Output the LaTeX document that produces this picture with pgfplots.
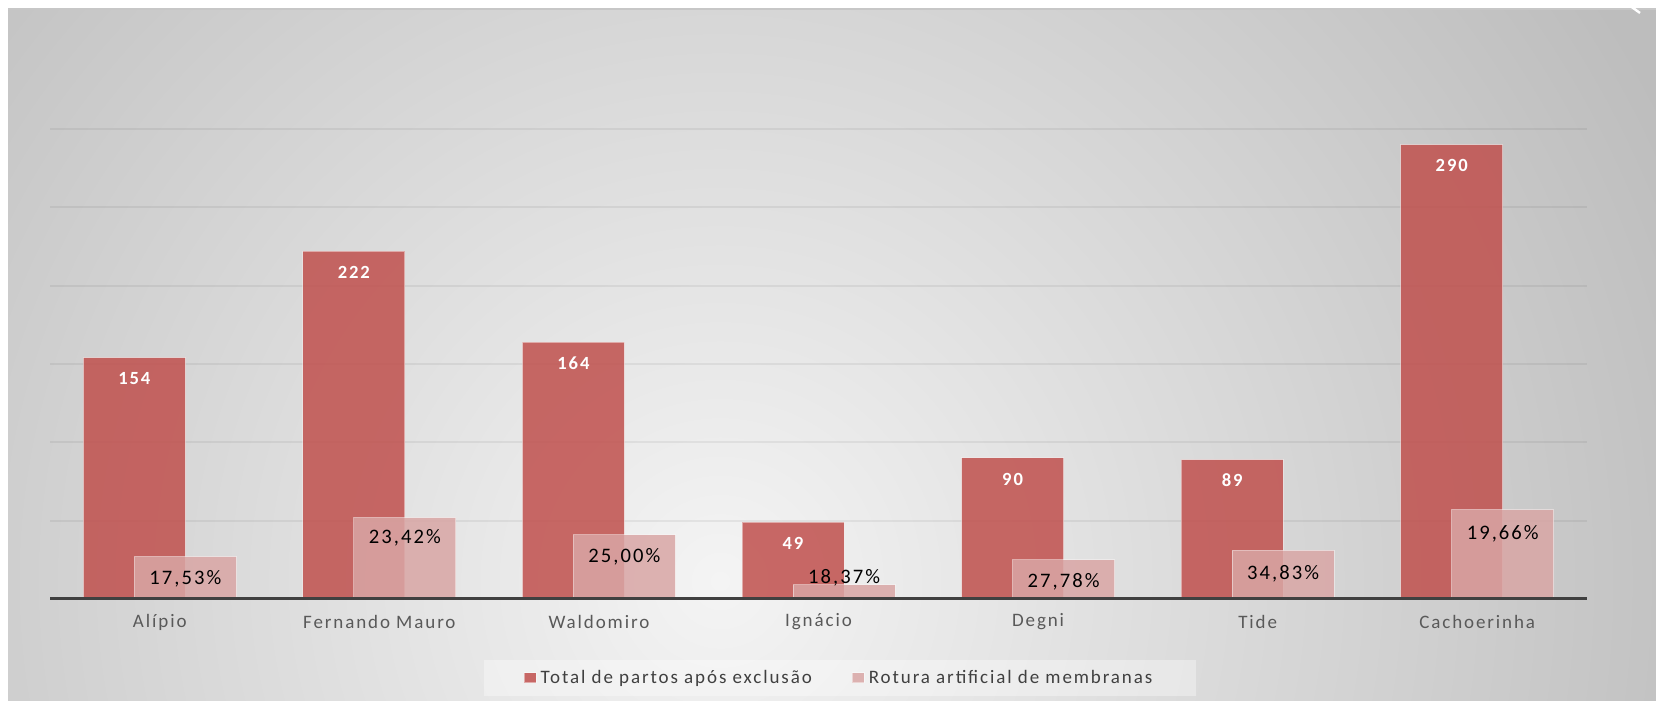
\documentclass[border=0pt]{standalone}
\usepackage{fontspec}
\setmainfont{Carlito}[LetterSpace=10]
\usepackage{pgfplots}
\usepackage{pgfplotstable}
\pgfplotsset{compat=1.18}

\definecolor{bgin}{HTML}{F4F4F4}
\definecolor{bgout}{HTML}{BDBDBD}
\definecolor{darkred}{HTML}{C0504D}
\definecolor{lightred}{HTML}{D9A6A5}
\definecolor{axisgray}{HTML}{404040}
\definecolor{labelgray}{HTML}{595959}
\pgfdeclareradialshading{bgshade}{\pgfpoint{0bp}{0bp}}{color(0bp)=(bgin); color(22bp)=(bgout); color(50bp)=(bgout)}

% total de partos
\pgfplotstableread{
x y
0 154
1 222
2 164
3 49
4 90
5 89
6 290
}\total

% rotura artificial (count, label, label shift in pt)
\pgfplotstableread{
x y lab dy
0 27 17,53\% -11
1 52 23,42\% -10
2 41 25,00\% -11
3 9 18,37\% 3.5
4 25 27,78\% -11
5 31 34,83\% -11.5
6 57 19,66\% -12
}\rotura

\begin{document}
\begin{tikzpicture}
\useasboundingbox (0,0) rectangle (828pt,350.5pt);
\fill[white] (0,0) rectangle (828pt,350.5pt);
\begin{scope}
  \clip (4pt,0) rectangle (828pt,346pt);
  \shade[shading=bgshade] (-240pt,-540pt) rectangle (960pt,660pt);
\end{scope}
\draw[black!22, line width=0.6pt] (4pt,346pt) -- (828pt,346pt);
\draw[white, line width=1.2pt] (811pt,350.5pt) -- (820pt,344pt);

\begin{axis}[
    at={(25pt,51pt)}, anchor=south west,
    scale only axis,
    width=768.5pt, height=235pt,
    xmin=-0.5, xmax=6.5,
    ymin=0, ymax=300,
    ybar, bar width=51pt,
    axis line style={draw=none},
    xtick={0,...,6},
    xticklabels={Alípio, Fernando Mauro, Waldomiro, Ignácio, Degni, Tide, Cachoerinha},
    xticklabel style={font=\fontsize{9.5}{11}\selectfont, text=labelgray, anchor=center, yshift=-11.5pt},
    ytick={50,100,...,300},
    yticklabels={},
    major tick length=0pt,
    ymajorgrids,
    major grid style={black, opacity=0.06, line width=1pt},
    clip=false,
    legend columns=2,
    legend image code/.code={\fill[#1] (0pt,-2.5pt) rectangle (6pt,2.5pt);},
    legend style={at={(0.514,-0.168)}, anchor=center, draw=none,
        fill=white, fill opacity=0.35, text opacity=1,
        inner xsep=20pt, inner ysep=3pt,
        font=\fontsize{9.5}{11}\selectfont, text=axisgray,
        /tikz/every even column/.append style={column sep=18pt}},
]
\addplot[fill=darkred, fill opacity=0.85, draw=white, draw opacity=0.45, line width=0.5pt,
    bar shift=-12.75pt,
    /pgf/number format/assume math mode=true,
    nodes near coords, nodes near coords align={anchor=center},
    every node near coord/.append style={anchor=center, yshift=-10.5pt, text=white,
        text opacity=1, font=\bfseries\fontsize{9.3}{11}\selectfont}]
    table[x=x, y=y] {\total};
\addlegendentry{Total de partos após exclusão}

\addplot[fill=lightred, fill opacity=0.85, draw=white, draw opacity=0.45, line width=0.5pt,
    bar shift=12.75pt,
    point meta=explicit symbolic,
    visualization depends on={\thisrow{dy} \as \labdy},
    nodes near coords, nodes near coords align={anchor=center},
    every node near coord/.append style={anchor=center, yshift=\labdy pt, text=black,
        text opacity=1, font=\fontsize{10.3}{12}\selectfont}]
    table[x=x, y=y, meta=lab] {\rotura};
\addlegendentry{Rotura artificial de membranas}

\draw[axisgray, line width=1.5pt] (rel axis cs:0,0) -- (rel axis cs:1,0);
\end{axis}
\end{tikzpicture}
\end{document}
